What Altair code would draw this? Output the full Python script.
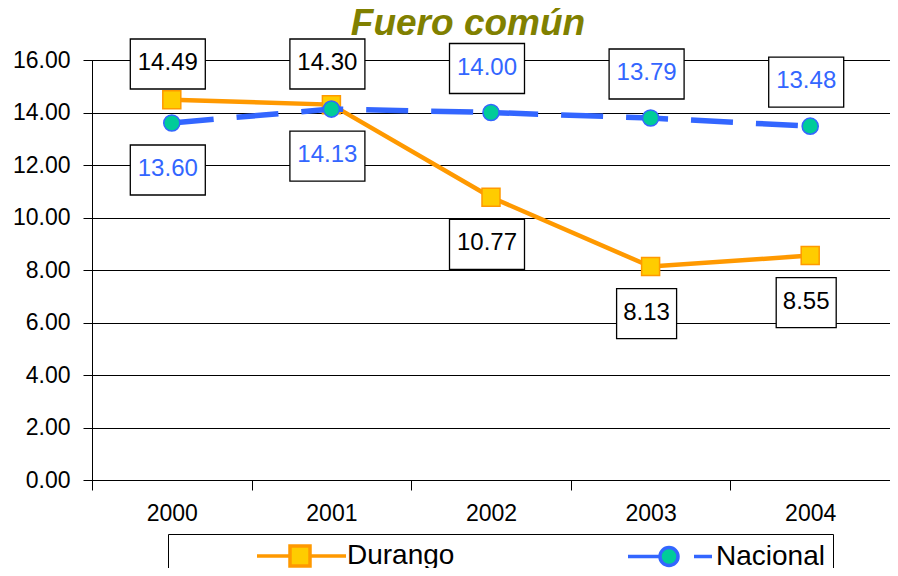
import altair as alt
import pandas as pd

# ---------------- data ----------------
years = ["2000", "2001", "2002", "2003", "2004"]
durango = [14.49, 14.30, 10.77, 8.13, 8.55]
nacional = [13.60, 14.13, 14.00, 13.79, 13.48]
series = ["Durango", "Nacional"]
title_text = "Fuero común"
y_ticks = [0, 2, 4, 6, 8, 10, 12, 14, 16]

# ---------------- style ----------------
ORANGE = "#FF9900"
YELLOW = "#FFCC00"
BLUE = "#3366FF"
GREEN = "#00CC99"
OLIVE = "#808000"
FONT = "Liberation Sans"
PAD_L = 84
PAD_T = 52
W, H = 882 - PAD_L, 420
YMAX = 16
PX = H / YMAX  # pixels per unit

rows = []
for i, yr in enumerate(years):
    d, n = durango[i], nacional[i]
    for s, v, other in (("Durango", d, n), ("Nacional", n, d)):
        above = v > other
        ly = min(v + 44 / PX, YMAX - 4 / PX) if above else v - 47 / PX
        lab = f"{v:.2f}"
        rows.append(dict(year=yr, series=s, value=v, ly=ly, label=lab, wide=len(lab) > 4))
df = pd.DataFrame(rows)

xenc = alt.X("year:O", title=None,
             scale=alt.Scale(type="band", paddingInner=0, paddingOuter=0),
             axis=alt.Axis(tickBand="extent", labelAngle=0, tickSize=10, labelPadding=12,
                           grid=False))
yscale = alt.Scale(domain=[0, YMAX], nice=False, zero=True)
yaxis = alt.Axis(values=y_ticks, format=".2f", grid=True, gridColor="black", gridWidth=1,
                 tickSize=9, labelPadding=13)


def Y(field):
    return alt.Y(field, title=None, scale=yscale, axis=yaxis)


base = alt.Chart(df)

d_line = base.transform_filter("datum.series == 'Durango'").mark_line(
    color=ORANGE, strokeWidth=4.5).encode(x=xenc, y=Y("value:Q"))
d_pts = base.transform_filter("datum.series == 'Durango'").mark_square(
    size=324, fill=YELLOW, stroke=ORANGE, strokeWidth=1.5, opacity=1).encode(x=xenc, y=Y("value:Q"))
n_line = base.transform_filter("datum.series == 'Nacional'").mark_line(
    color=BLUE, strokeWidth=5.5, strokeDash=[42, 23]).encode(x=xenc, y=Y("value:Q"))
n_pts = base.transform_filter("datum.series == 'Nacional'").mark_circle(
    size=260, fill=GREEN, stroke=BLUE, strokeWidth=1.5, opacity=1).encode(x=xenc, y=Y("value:Q"))

wide_box = "M-1,-0.6667L1,-0.6667L1,0.6667L-1,0.6667Z"
narrow_box = "M-1,-0.8333L1,-0.8333L1,0.8333L-1,0.8333Z"
box_w = base.transform_filter("datum.wide").mark_point(
    shape=wide_box, size=75 * 75, filled=True, fill="white", stroke="black",
    strokeWidth=1.3, opacity=1, xOffset=-4).encode(x=xenc, y=Y("ly:Q"))
box_n = base.transform_filter("!datum.wide").mark_point(
    shape=narrow_box, size=60 * 60, filled=True, fill="white", stroke="black",
    strokeWidth=1.3, opacity=1, xOffset=-4).encode(x=xenc, y=Y("ly:Q"))
texts = base.mark_text(font=FONT, fontSize=24, baseline="middle", align="center",
                       dy=-1, dx=-4).encode(
    x=xenc, y=Y("ly:Q"), text="label:N",
    color=alt.condition("datum.series == 'Nacional'", alt.value(BLUE), alt.value("black")))

# legend (built from scale domains; layer draws no marks)
d_sym = "M-4.3,0L-1,0M1,0L4.6,0M-1,-1L1,-1L1,1L-1,1Z"
n_sym = "M-4.1,0L-0.9,0M2.5,0L4.3,0M-0.9,0A0.9,0.9 0 1,0 0.9,0A0.9,0.9 0 1,0 -0.9,0Z"
leg_spec = alt.Legend(
    title=None, orient="none", legendX=168 - 8 - PAD_L, legendY=534 - 8 - PAD_T,
    direction="horizontal",
    strokeColor="black", fillColor="white", padding=8,
    symbolSize=400, symbolStrokeWidth=3.5, symbolOffset=110, labelOffset=33,
    columnPadding=90, labelFont=FONT, labelFontSize=28, labelColor="black",
    labelExpr="datum.label == 'Nacional' ? 'Nacional' + '                                        ' : datum.label",
    labelLimit=800)
legend_layer = base.transform_filter("false").mark_point(
    filled=True, opacity=1, strokeWidth=3.5).encode(
    shape=alt.Shape("series:N", scale=alt.Scale(domain=series, range=[d_sym, n_sym]), legend=leg_spec),
    fill=alt.Fill("series:N", scale=alt.Scale(domain=series, range=[YELLOW, GREEN]), legend=leg_spec),
    stroke=alt.Stroke("series:N", scale=alt.Scale(domain=series, range=[ORANGE, BLUE]), legend=leg_spec),
)

chart = alt.layer(d_line, d_pts, n_line, n_pts, box_w, box_n, texts, legend_layer).properties(
    width=W, height=H,
    title=alt.TitleParams(title_text, font=FONT, fontSize=37, fontWeight="bold",
                          fontStyle="italic", color=OLIVE, anchor="middle",
                          dx=468 - (8 + PAD_L + W / 2), offset=-7),
    autosize=alt.AutoSizeParams(type="none"),
    padding={"left": PAD_L, "top": PAD_T, "right": 0, "bottom": 88},
).configure(background="white").configure_view(stroke="black", strokeWidth=1).configure_axis(
    domainColor="black", tickColor="black", labelColor="black", labelFont=FONT,
    labelFontSize=23, domainWidth=1, tickWidth=1
)

chart.save("out.html", embed_options={"renderer": "svg", "actions": False})
